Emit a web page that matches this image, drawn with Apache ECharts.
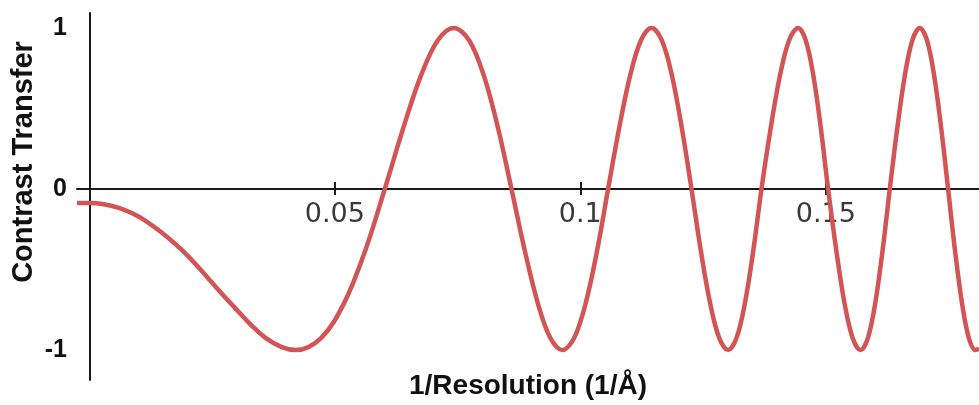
<!DOCTYPE html>
<html>
<head>
<meta charset="utf-8">
<title>Contrast Transfer Function</title>
<script src="https://cdn.jsdelivr.net/npm/echarts@6/dist/echarts.min.js"></script>
<style>
  html, body { margin: 0; padding: 0; background: #ffffff; }
  #chart { width: 979px; height: 405px; }
</style>
</head>
<body>
<div id="chart"></div>
<script>
// Spatial frequency samples (1/Å) and the contrast transfer at each one
const frequency = [
  -0.0025, 0, 0.006, 0.01155, 0.019, 0.02872, 0.03589, 0.04206,
  0.04725, 0.05192, 0.0562, 0.06018,
  0.06399, 0.06758, 0.07099, 0.07424, 0.07735, 0.08033, 0.08321, 0.08599,
  0.0887, 0.09133, 0.09388, 0.09637, 0.09877, 0.10112, 0.10342, 0.10566,
  0.10794, 0.11017, 0.11236, 0.1145, 0.11659, 0.11865, 0.12066, 0.12265,
  0.12455, 0.12643, 0.12828, 0.1301, 0.13183, 0.13354, 0.13523, 0.1369,
  0.1388, 0.14068, 0.14253, 0.14436, 0.14591, 0.14745, 0.14897, 0.15047,
  0.15215, 0.1538, 0.15545, 0.15707, 0.15858, 0.16008, 0.16156, 0.16303,
  0.16458, 0.16611, 0.16763, 0.16914, 0.1706, 0.17205, 0.17348, 0.17491,
  0.17632, 0.17773, 0.17912, 0.1805, 0.1812
];
const contrast = [
  -0.0875, -0.087, -0.117, -0.199, -0.383, -0.707, -0.924, -1,
  -0.924, -0.707, -0.383, 0,
  0.383, 0.707, 0.924, 1, 0.924, 0.707, 0.383, 0,
  -0.383, -0.707, -0.924, -1, -0.924, -0.707, -0.383, 0,
  0.383, 0.707, 0.924, 1, 0.924, 0.707, 0.383, 0,
  -0.383, -0.707, -0.924, -1, -0.924, -0.707, -0.383, 0,
  0.383, 0.707, 0.924, 1, 0.924, 0.707, 0.383, 0,
  -0.383, -0.707, -0.924, -1, -0.924, -0.707, -0.383, 0,
  0.383, 0.707, 0.924, 1, 0.924, 0.707, 0.383, 0,
  -0.383, -0.707, -0.924, -1, -0.99
];

// Axis ticks and labels
const xTickValues = [0.05, 0.1, 0.15];
const yTickValues = [-1, 0, 1];

const curve = frequency.map((f, i) => [f, contrast[i]]);

// The frequency axis runs along the zero line, 191px above the plot's bottom edge
const zeroLineOffset = -191;

const chart = echarts.init(document.getElementById('chart'), null, { renderer: 'canvas' });

chart.setOption({
  animation: false,
  backgroundColor: '#ffffff',
  grid: { left: 77, right: 0, top: 13, bottom: 25, containLabel: false, outerBoundsMode: 'none' },
  xAxis: [
    {
      type: 'value',
      min: -0.0025,
      max: 0.1812,
      position: 'bottom',
      offset: zeroLineOffset,
      name: '1/Resolution (1/Å)',
      nameLocation: 'middle',
      nameGap: 183,
      nameMoveOverlap: false,
      nameTextStyle: {
        fontFamily: 'Liberation Sans',
        fontWeight: 'bold',
        fontSize: 28,
        color: '#111111'
      },
      axisLine: { show: true, onZero: false, lineStyle: { color: '#1a1a1a', width: 2 } },
      axisTick: {
        show: true,
        customValues: xTickValues,
        length: 6,
        lineStyle: { color: '#1a1a1a', width: 2 }
      },
      axisLabel: {
        customValues: xTickValues,
        margin: 12,
        fontFamily: 'DejaVu Sans',
        fontSize: 27,
        color: '#3a3a3a'
      },
      splitLine: { show: false }
    },
    {
      // upper half of the crossing tick marks
      type: 'value',
      min: -0.0025,
      max: 0.1812,
      position: 'bottom',
      offset: zeroLineOffset,
      axisLine: { show: false, onZero: false },
      axisTick: {
        show: true,
        inside: true,
        customValues: xTickValues,
        length: 7,
        lineStyle: { color: '#1a1a1a', width: 2 }
      },
      axisLabel: { show: false },
      splitLine: { show: false }
    }
  ],
  yAxis: {
    type: 'value',
    min: -1.186,
    max: 1.093,
    name: 'Contrast Transfer',
    nameLocation: 'middle',
    nameGap: 39,
    nameMoveOverlap: false,
    nameTextStyle: {
      fontFamily: 'Liberation Sans',
      fontWeight: 'bold',
      fontSize: 29,
      color: '#111111',
      padding: [0, 0, 0, 69]
    },
    axisLine: { show: true, onZero: true, onZeroAxisIndex: 0, lineStyle: { color: '#1a1a1a', width: 2 } },
    axisTick: { show: false },
    axisLabel: {
      customValues: yTickValues,
      margin: 10,
      fontFamily: 'Liberation Sans',
      fontWeight: 'bold',
      fontSize: 25,
      color: '#111111'
    },
    splitLine: { show: false }
  },
  series: [
    {
      type: 'line',
      data: curve,
      smooth: 0.35,
      showSymbol: false,
      clip: false,
      lineStyle: { color: '#d35454', width: 4.5 },
      z: 5
    }
  ]
});
</script>
</body>
</html>
